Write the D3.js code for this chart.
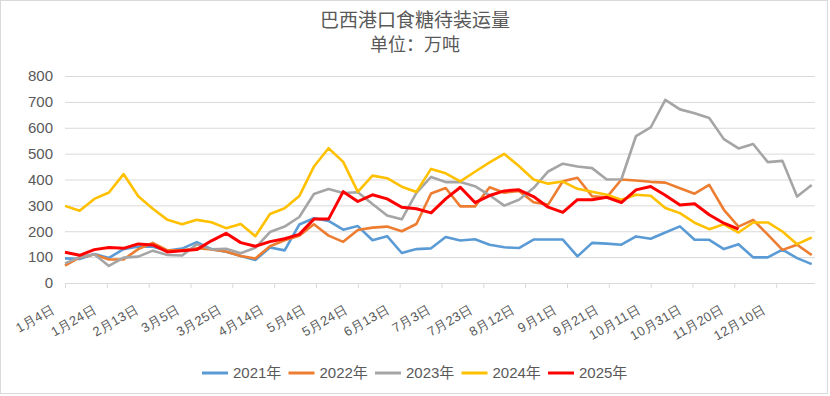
<!DOCTYPE html>
<html>
<head>
<meta charset="utf-8">
<script src="https://cdn.jsdelivr.net/npm/d3@7"></script>
<style>
  body { margin: 0; background: #fff; }
  svg { display: block; font-family: "Liberation Sans", Arial, "Noto Sans CJK SC", sans-serif; }
</style>
</head>
<body>
<div id="chart"></div>
<script>
// data, weekly points from 1月4日
var years = ['2021年', '2022年', '2023年', '2024年', '2025年'];
var colors = ['#5B9BD5', '#ED7D31', '#A5A5A5', '#FFC000', '#FF0000'];

var v2021 = [95, 93, 112, 97, 131, 141, 140, 125, 133, 158, 131, 121, 104, 89, 137, 126, 226, 250, 240, 206,
  220, 165, 181, 116, 131, 134, 178, 164, 169, 148, 138, 135, 168, 168, 168, 103, 155, 152, 148, 180,
  171, 195, 219, 167, 167, 131, 150, 99, 99, 129, 96, 73];
var v2022 = [67, 99, 110, 91, 91, 131, 155, 126, 126, 134, 130, 122, 104, 95, 142, 165, 183, 227, 183, 159,
  205, 214, 218, 200, 228, 346, 367, 296, 296, 370, 349, 356, 312, 303, 393, 407, 335, 331, 400, 396,
  391, 388, 366, 345, 379, 283, 218, 244, 187, 128, 148, 108];
var v2023 = [76, 100, 111, 66, 98, 102, 125, 108, 106, 150, 130, 132, 115, 136, 197, 218, 255, 344, 363, 348,
  351, 305, 261, 246, 348, 410, 390, 390, 374, 339, 299, 322, 367, 431, 461, 450, 444, 400, 401, 568,
  601, 708, 671, 656, 638, 556, 520, 537, 467, 472, 334, 379];
var v2024 = [298, 279, 325, 350, 421, 335, 287, 244, 227, 244, 235, 212, 228, 181, 267, 289, 336, 450, 521, 468,
  352, 415, 405, 372, 352, 441, 424, 393, 430, 466, 499, 452, 400, 384, 392, 364, 353, 341, 322, 341,
  337, 290, 270, 233, 208, 227, 195, 234, 234, 199, 150, 176];
var v2025 = [119, 107, 129, 137, 134, 151, 147, 120, 125, 129, 163, 192, 156, 142, 160, 171, 188, 247, 247, 353,
  315, 341, 325, 293, 287, 271, 325, 370, 311, 338, 356, 360, 334, 293, 273, 322, 322, 331, 311, 360,
  373, 339, 301, 306, 264, 231, 208];
var yTicks = [0, 100, 200, 300, 400, 500, 600, 700, 800];

var W = 830, H = 396;
var start = new Date(Date.UTC(2021, 0, 4));
var end = d3.utcDay.offset(start, 360);
var xTicks = d3.range(18).map(function(k){ return d3.utcDay.offset(start, 20 * k); });

var series = [v2021, v2022, v2023, v2024, v2025].map(function(vals, s){
  return {name: years[s], color: colors[s], values: vals.map(function(v, i){
    return {date: d3.utcDay.offset(start, 7 * i), value: v};
  })};
});

var svg = d3.select('#chart').append('svg').attr('width', W).attr('height', H);

// outer frame
svg.append('rect').attr('x', 0.5).attr('y', 0.5).attr('width', W - 3).attr('height', H - 3)
  .attr('fill', '#fff').attr('stroke', '#d9d9d9');

// titles
svg.append('text').attr('x', 415).attr('y', 27).attr('text-anchor', 'middle')
  .style('font-family', '"Noto Sans CJK SC", sans-serif').style('font-size', '19px').style('fill', '#595959')
  .text('巴西港口食糖待装运量');
svg.append('text').attr('x', 415).attr('y', 51).attr('text-anchor', 'middle')
  .style('font-family', '"Noto Sans CJK SC", sans-serif').style('font-size', '18px').style('fill', '#595959')
  .text('单位：万吨');

//Scales
var x = d3.scaleUtc().domain([start, end]).range([65, 818]);
var y = d3.scaleLinear().domain([0, 800]).range([283, 76]);

// gridlines + y labels
var yAxis = d3.axisLeft(y).tickValues(yTicks).tickSize(-750).tickPadding(12);
var gy = svg.append('g').attr('transform', 'translate(65,0)').call(yAxis);
gy.select('.domain').remove();
gy.selectAll('line').attr('stroke', '#d9d9d9');
gy.selectAll('text').style('font-size', '15px').style('fill', '#595959');

// x axis
var xAxis = d3.axisBottom(x).tickValues(xTicks).tickSize(5).tickSizeOuter(0)
  .tickFormat(d3.utcFormat('%-m月%-d日'));
var gx = svg.append('g').attr('transform', 'translate(0,283)').call(xAxis);
gx.select('.domain').attr('stroke', '#d9d9d9').attr('d', 'M65.5,0.5H815');
gx.selectAll('line').attr('stroke', '#d9d9d9');
gx.selectAll('text')
  .attr('x', 0).attr('y', 0).attr('dy', 0)
  .attr('text-anchor', 'end')
  .attr('transform', 'translate(-10,29) rotate(-30)')
  .style('font-size', '13px').style('letter-spacing', '0.4px').style('fill', '#595959');

// lines
var line = d3.line()
  .x(function(d){ return x(d.date); })
  .y(function(d){ return y(d.value); });

svg.selectAll('.series').data(series).enter().append('path')
  .attr('class', 'series')
  .attr('d', function(d){ return line(d.values); })
  .attr('fill', 'none')
  .attr('stroke', function(d){ return d.color; })
  .attr('stroke-width', function(d, i){ return i === 4 ? 3 : 2.6; })
  .attr('stroke-linejoin', 'round');

// legend
var legend = svg.selectAll('.legend').data(series).enter().append('g')
  .attr('class', 'legend')
  .attr('transform', function(d, i){ return 'translate(' + (202 + i * 86.5) + ',373)'; });
legend.append('line').attr('x1', 0).attr('x2', 26).attr('y1', 0).attr('y2', 0)
  .attr('stroke', function(d){ return d.color; }).attr('stroke-width', 3);
legend.append('text').attr('x', 31).attr('y', 0).attr('dy', '0.35em')
  .style('font-size', '15px').style('fill', '#595959')
  .text(function(d){ return d.name; });
</script>
</body>
</html>
